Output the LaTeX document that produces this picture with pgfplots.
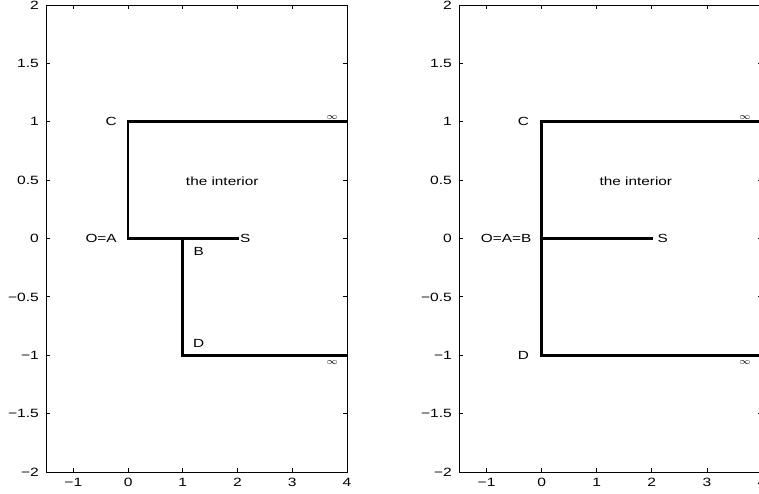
\documentclass[border=0pt]{standalone}
\usepackage{pgfplots}
\pgfplotsset{compat=1.18}
\usepackage{fontspec}
\setmainfont{Liberation Sans}
\begin{document}
\begin{tikzpicture}
\useasboundingbox (0pt,0pt) rectangle (759pt,494pt);
\tikzset{lab/.style={font=\fontsize{11.8}{12}\selectfont, xscale=1.3, inner sep=1pt},
         inf/.style={font=\fontsize{9}{10}\selectfont, xscale=1.2, inner sep=1pt}}
\pgfplotsset{myax/.style={
  scale only axis, height=467pt,
  xmin=-1.5, xmax=4, ymin=-2, ymax=2,
  xtick={-1,0,1,2,3,4}, xticklabels={−1,0,1,2,3,4},
  ytick={-2,-1.5,-1,-0.5,0,0.5,1,1.5,2},
  yticklabels={−2,−1.5,−1,−0.5,0,0.5,1,1.5,2},
  tick align=inside, major tick length=4pt,
  axis line style={line width=0.8pt},
  every tick/.style={line width=0.8pt, black},
  tick label style={font=\fontsize{12}{12}\selectfont, xscale=1.3},
  xticklabel style={yshift=-3pt},
  yticklabel style={xshift=-2pt},
  axis on top,
}}
\pgfplotsset{thk/.style={black, line width=2.8pt, line join=miter, line cap=rect, no marks}}
\begin{axis}[myax, at={(46pt,22pt)}, anchor=south west, width=301pt]
  \addplot[thk] coordinates {(4,1) (0,1) (0,0) (2,0)};
  \addplot[thk] coordinates {(1,0) (1,-1) (4,-1)};
  \node[lab, anchor=east] at (axis cs:-0.18,1) {C};
  \node[lab, anchor=east] at (axis cs:-0.18,0) {O=A};
  \node[lab] at (axis cs:1.29,-0.11) {B};
  \node[lab] at (axis cs:1.29,-0.9) {D};
  \node[lab] at (axis cs:2.14,0) {S};
  \node[lab] at (axis cs:1.72,0.49) {the interior};
  \node[inf] at (axis cs:3.73,1.04) {$\infty$};
  \node[inf] at (axis cs:3.73,-1.06) {$\infty$};
\end{axis}
\begin{axis}[myax, at={(459pt,22pt)}, anchor=south west, width=303pt]
  \addplot[thk] coordinates {(4,1) (0,1) (0,-1) (4,-1)};
  \addplot[thk] coordinates {(0,0) (2,0)};
  \node[lab, anchor=east] at (axis cs:-0.2,1) {C};
  \node[lab, anchor=east] at (axis cs:-0.16,0) {O=A=B};
  \node[lab, anchor=east] at (axis cs:-0.2,-1) {D};
  \node[lab] at (axis cs:2.2,0) {S};
  \node[lab] at (axis cs:1.71,0.49) {the interior};
  \node[inf] at (axis cs:3.69,1.04) {$\infty$};
  \node[inf] at (axis cs:3.69,-1.06) {$\infty$};
\end{axis}
\end{tikzpicture}
\end{document}
